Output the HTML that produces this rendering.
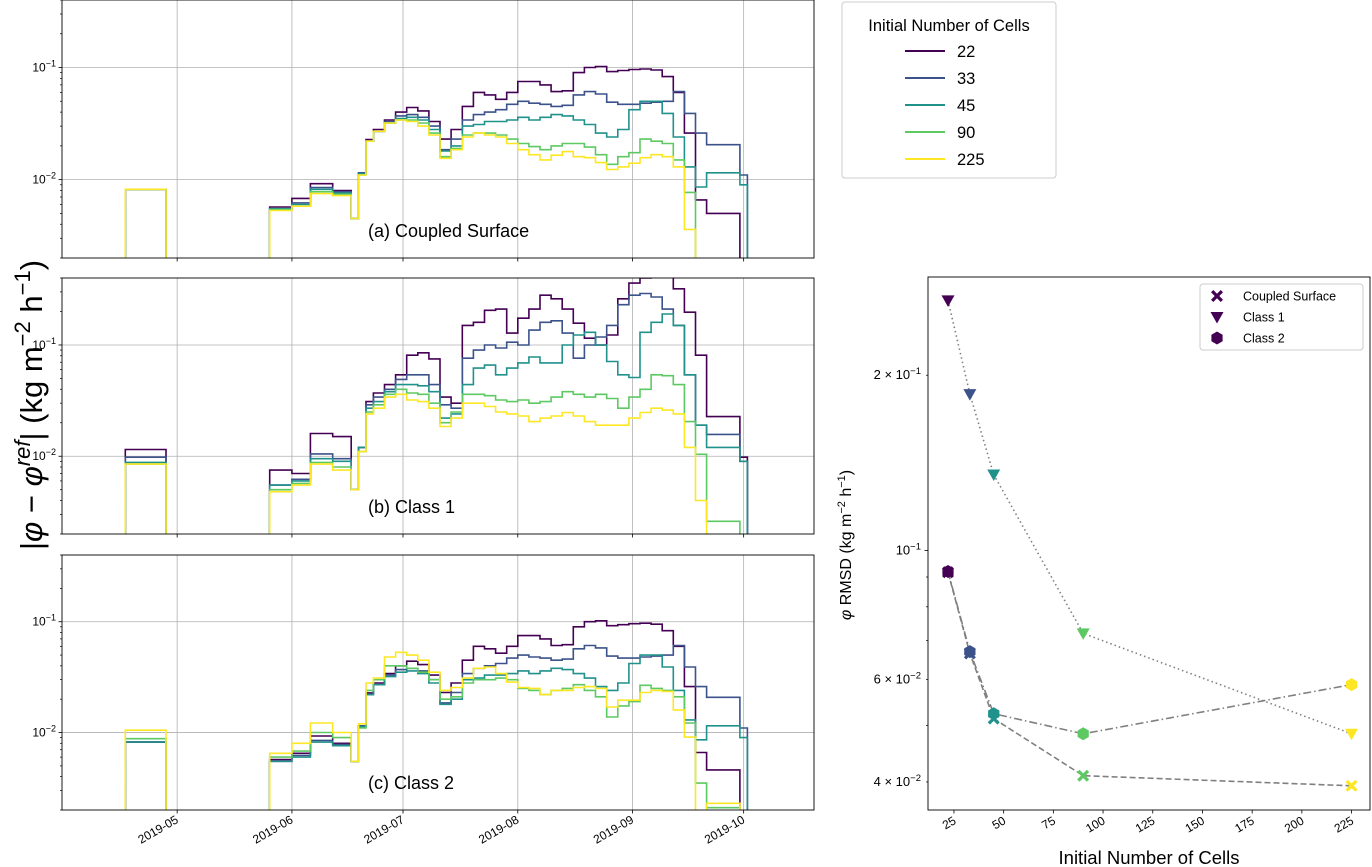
<!DOCTYPE html>
<html><head><meta charset="utf-8"><style>
html,body{margin:0;padding:0;background:#fff;}
svg{display:block;font-family:"Liberation Sans","DejaVu Sans",sans-serif;}
</style></head><body>
<svg id="fig" width="1372" height="867" viewBox="0 0 1372 867" xmlns="http://www.w3.org/2000/svg">
<text transform="translate(42,405) rotate(-90)" text-anchor="middle" font-size="31">|<tspan font-style="italic">φ</tspan> − <tspan font-style="italic">φ</tspan><tspan dy="-12" font-size="22" font-style="italic">ref</tspan><tspan dy="12">| (kg m</tspan><tspan dy="-12" font-size="22">−2</tspan><tspan dy="12"> h</tspan><tspan dy="-12" font-size="22">−1</tspan><tspan dy="12">)</tspan></text>
</svg>
<script>
// ---- time-series data ----
const days=[16,27,55,61,66,72,77,79,81,83,86,89,92,95,98,101,104,107,110,113,116,119,122,125,128,131,134,137,140,143,146,149,152,155,158,161,164,167,170,173,182,184];
const cellCounts=[22,33,45,90,225];
const a22=[0.0082,null,0.0057,0.0068,0.0092,0.0080,0.0045,0.0115,0.0228,0.028,0.034,0.040,0.044,0.041,0.033,0.023,0.028,0.045,0.060,0.057,0.052,0.060,0.075,0.075,0.070,0.061,0.062,0.090,0.100,0.102,0.092,0.094,0.096,0.097,0.095,0.083,0.060,0.026,0.0066,0.0050,null,null];
const a33=[0.0082,null,0.0055,0.0062,0.0085,0.0078,0.0045,0.0115,0.022,0.027,0.033,0.037,0.038,0.036,0.030,0.0185,0.023,0.034,0.038,0.040,0.042,0.047,0.050,0.048,0.047,0.045,0.046,0.057,0.061,0.058,0.049,0.047,0.047,0.048,0.049,0.050,0.061,0.039,0.026,0.0205,0.011,null];
const a45=[0.0082,null,0.0055,0.0060,0.0082,0.0076,0.0045,0.0113,0.022,0.027,0.032,0.035,0.036,0.034,0.028,0.018,0.020,0.030,0.031,0.033,0.033,0.034,0.036,0.034,0.036,0.038,0.037,0.034,0.031,0.026,0.024,0.028,0.042,0.050,0.050,0.039,0.024,0.013,0.0086,0.0115,0.009,null];
const a90=[0.0082,null,0.0054,0.0058,0.0078,0.0074,0.0045,0.011,0.022,0.027,0.032,0.034,0.034,0.032,0.026,0.016,0.019,0.025,0.026,0.026,0.025,0.023,0.021,0.0197,0.0185,0.020,0.021,0.021,0.0195,0.0167,0.0137,0.016,0.0174,0.023,0.022,0.021,0.015,0.0077,null,null,null,null];
const a225=[0.0082,null,0.0053,0.0058,0.0075,0.0072,0.0045,0.011,0.022,0.027,0.032,0.034,0.033,0.030,0.025,0.0155,0.0185,0.024,0.026,0.025,0.024,0.021,0.0185,0.0167,0.015,0.0165,0.0178,0.016,0.0157,0.0142,0.0123,0.013,0.014,0.0157,0.0167,0.016,0.013,0.0036,null,null,null,null];
const b22=[0.0115,null,0.0075,0.007,0.016,0.015,0.005,0.012,0.031,0.037,0.044,0.054,0.081,0.085,0.075,0.034,0.030,0.15,0.16,0.205,0.21,0.128,0.174,0.21,0.28,0.26,0.21,0.157,0.115,0.10,0.123,0.26,0.36,0.40,0.42,0.41,0.32,0.197,0.081,0.0227,0.0098,null];
const b33=[0.0098,null,0.0055,0.0062,0.0105,0.0095,0.005,0.012,0.029,0.034,0.040,0.049,0.054,0.054,0.044,0.029,0.027,0.076,0.090,0.10,0.094,0.106,0.10,0.136,0.16,0.165,0.128,0.076,0.10,0.118,0.15,0.23,0.28,0.29,0.27,0.21,0.15,0.054,0.019,0.0157,0.009,null];
const b45=[0.0088,null,0.0055,0.006,0.0095,0.009,0.005,0.012,0.027,0.031,0.038,0.044,0.044,0.043,0.038,0.022,0.024,0.044,0.062,0.066,0.054,0.062,0.069,0.078,0.069,0.069,0.10,0.123,0.13,0.10,0.071,0.054,0.051,0.13,0.16,0.19,0.15,0.054,0.019,0.012,0.009,null];
const b90=[0.0085,null,0.005,0.0057,0.0088,0.008,0.005,0.011,0.025,0.029,0.036,0.040,0.037,0.036,0.030,0.020,0.025,0.036,0.036,0.035,0.032,0.031,0.032,0.030,0.031,0.034,0.038,0.036,0.034,0.036,0.033,0.027,0.034,0.040,0.054,0.053,0.044,0.0205,0.0104,0.0026,null,null];
const b225=[0.0085,null,0.0048,0.0055,0.0085,0.0075,0.005,0.011,0.024,0.027,0.034,0.036,0.032,0.031,0.027,0.0185,0.022,0.030,0.030,0.028,0.025,0.024,0.023,0.0205,0.022,0.023,0.0247,0.023,0.0205,0.019,0.019,0.019,0.022,0.0247,0.027,0.026,0.024,0.012,0.004,null,null,null];
const c22=[0.0082,null,0.0057,0.0065,0.0093,0.0080,0.0055,0.0115,0.0228,0.028,0.034,0.040,0.044,0.041,0.033,0.023,0.028,0.045,0.060,0.057,0.052,0.060,0.075,0.075,0.070,0.061,0.062,0.090,0.100,0.102,0.092,0.094,0.096,0.097,0.095,0.083,0.060,0.026,0.0066,0.0046,null,null];
const c33=[0.0082,null,0.0055,0.0062,0.0085,0.0078,0.0055,0.0115,0.022,0.027,0.033,0.037,0.038,0.036,0.030,0.0185,0.023,0.034,0.038,0.040,0.042,0.047,0.050,0.048,0.047,0.045,0.046,0.057,0.061,0.058,0.049,0.047,0.047,0.048,0.049,0.050,0.061,0.039,0.026,0.0208,0.011,null];
const c45=[0.0082,null,0.0055,0.0060,0.0082,0.0076,0.0055,0.0113,0.022,0.027,0.032,0.035,0.036,0.034,0.028,0.018,0.020,0.030,0.031,0.033,0.033,0.034,0.036,0.034,0.036,0.038,0.037,0.034,0.031,0.026,0.024,0.028,0.042,0.050,0.050,0.039,0.024,0.013,0.0086,0.0115,0.009,null];
const c90=[0.0088,null,0.006,0.0068,0.010,0.009,0.0055,0.011,0.024,0.030,0.040,0.040,0.038,0.035,0.030,0.020,0.021,0.028,0.030,0.030,0.031,0.030,0.025,0.024,0.022,0.024,0.025,0.027,0.024,0.021,0.0138,0.0174,0.019,0.0267,0.025,0.024,0.021,0.0122,0.0035,0.0021,null,null];
const c225=[0.0105,null,0.0065,0.008,0.0122,0.010,0.0055,0.012,0.028,0.031,0.048,0.053,0.050,0.045,0.035,0.024,0.0255,0.031,0.038,0.039,0.034,0.0285,0.0255,0.025,0.022,0.024,0.024,0.0255,0.026,0.025,0.017,0.0196,0.0196,0.023,0.024,0.0235,0.016,0.0091,null,0.0023,null,null];
const monthLabels=["2019-05","2019-06","2019-07","2019-08","2019-09","2019-10"];
const monthDays=[30,61,91,122,153,183];
// ---- RMSD data ----
const rmsdCoupled=[0.0917,0.0665,0.0514,0.0410,0.0394];
const rmsdClass1=[0.269,0.1856,0.135,0.072,0.0484];
const rmsdClass2=[0.092,0.067,0.0524,0.0484,0.0588];
const rxTicks=[25,50,75,100,125,150,175,200,225];

const colors=["#440154","#3b528b","#21918c","#5ec962","#fde725"];
const NS="http://www.w3.org/2000/svg";
const svg=document.getElementById('fig');
function mk(tag,attrs,parent){const e=document.createElementNS(NS,tag);for(const k in attrs)e.setAttribute(k,attrs[k]);(parent||svg).appendChild(e);return e;}

const X0=62,X1=814,D0=-1.1,D1=202;
const xd=d=>X0+(d-D0)/(D1-D0)*(X1-X0);
const YMIN=0.002,YMAX=0.4;

function panel(top,bottom,sets,label,name,showX){
  const g=mk('g',{});
  
  
  const yv=v=>top+(Math.log10(YMAX)-Math.log10(v))/(Math.log10(YMAX)-Math.log10(YMIN))*(bottom-top);
  monthDays.forEach(d=>{const l=mk('line',{x1:xd(d),x2:xd(d),y1:top,y2:bottom,stroke:'#b0b0b0','stroke-width':0.8},g);});
  [0.1,0.01].forEach(v=>{const l=mk('line',{x1:X0,x2:X1,y1:yv(v),y2:yv(v),stroke:'#b0b0b0','stroke-width':0.8},g);});
  const cid='clip'+name;
  const cp=mk('clipPath',{id:cid},g);mk('rect',{x:X0,y:top,width:X1-X0,height:bottom-top},cp);
  const lg=mk('g',{'clip-path':'url(#'+cid+')'},g);
  sets.forEach((arr,si)=>{
    const low=bottom+10;
    let p='M'+xd(days[0])+','+low;
    for(let i=0;i<days.length;i++){
      const y=arr[i]==null?low:yv(arr[i]);
      p+=' L'+xd(days[i]).toFixed(1)+','+y.toFixed(1);
      if(i<days.length-1)p+=' L'+xd(days[i+1]).toFixed(1)+','+y.toFixed(1);
    }
    const path=mk('path',{d:p,fill:'none',stroke:colors[si],'stroke-width':1.6,'stroke-linejoin':'miter'},lg);
    
    
  });
  mk('rect',{x:X0,y:top,width:X1-X0,height:bottom-top,fill:'none',stroke:'#000','stroke-width':0.9},g);
  for(let e=-3;e<=-1;e++)for(let m=1;m<=9;m++){const v=m*Math.pow(10,e);if(v<YMIN||v>YMAX)continue;const y=yv(v);mk('line',{x1:X0,x2:X0-(m==1?3.5:2),y1:y,y2:y,stroke:'#000','stroke-width':m==1?0.8:0.7},g);}
  [[0.1,'−1'],[0.01,'−2']].forEach(([v,s])=>{const t=mk('text',{x:X0-6,y:yv(v)+4,'text-anchor':'end','font-size':12},g);t.innerHTML='10<tspan dy="-5" font-size="9">'+s+'</tspan>';});
  monthDays.forEach((d,i)=>{mk('line',{x1:xd(d),x2:xd(d),y1:bottom,y2:bottom+3.5,stroke:'#000','stroke-width':0.8},g);
    if(showX){const t=mk('text',{transform:'translate('+(xd(d)+2)+','+(bottom+12)+') rotate(-30)','text-anchor':'end','font-size':12},g);t.textContent=monthLabels[i];}});
  const t=mk('text',{x:368,y:bottom-21,'font-size':18},g);t.textContent=label;
  
  
}
panel(0,258,[a22,a33,a45,a90,a225],'(a) Coupled Surface','panel-coupled-surface',false);
panel(278,534,[b22,b33,b45,b90,b225],'(b) Class 1','panel-class-1',false);
panel(555,810,[c22,c33,c45,c90,c225],'(c) Class 2','panel-class-2',true);

// top legend
const lg=mk('g',{});


mk('rect',{x:842,y:2,width:214,height:176,rx:3,fill:'#fff',stroke:'#ccc','stroke-width':1},lg);
const lt=mk('text',{x:949,y:31,'text-anchor':'middle','font-size':16.5},lg);lt.textContent='Initial Number of Cells';
cellCounts.forEach((n,i)=>{const y=51+i*27;mk('line',{x1:905,x2:945,y1:y,y2:y,stroke:colors[i],'stroke-width':2},lg);
  const t=mk('text',{x:957,y:y+6,'font-size':16.5},lg);t.textContent=n;
  
  });

// right panel
const RX0=928,RX1=1370,RT=277,RB=810,RYMIN=0.0358,RYMAX=0.295;
const rx=v=>948+(v-22)*1.988;
const ry=v=>RT+(Math.log10(RYMAX)-Math.log10(v))/(Math.log10(RYMAX)-Math.log10(RYMIN))*(RB-RT);
const rg=mk('g',{});


mk('rect',{x:RX0,y:RT,width:RX1-RX0,height:RB-RT,fill:'none',stroke:'#000','stroke-width':0.9},rg);
for(let e=-2;e<=-1;e++)for(let m=1;m<=9;m++){const v=m*Math.pow(10,e);if(v<RYMIN||v>RYMAX)continue;const y=ry(v);mk('line',{x1:RX0,x2:RX0-(m==1?3.5:2),y1:y,y2:y,stroke:'#000','stroke-width':m==1?0.8:0.7},rg);}
[[0.2,'2 × 10','−1'],[0.1,'10','−1'],[0.06,'6 × 10','−2'],[0.04,'4 × 10','−2']].forEach(([v,b,s])=>{const t=mk('text',{x:RX0-7,y:ry(v)+4,'text-anchor':'end','font-size':13},rg);t.innerHTML=b+'<tspan dy="-5" font-size="9.5">'+s+'</tspan>';});
rxTicks.forEach(v=>{mk('line',{x1:rx(v),x2:rx(v),y1:RB,y2:RB+3.5,stroke:'#000','stroke-width':0.8},rg);
  const t=mk('text',{transform:'translate('+(rx(v)+3)+','+(RB+13)+') rotate(-30)','text-anchor':'end','font-size':12},rg);t.textContent=v;
  });
const rxl=mk('text',{x:1149,y:864,'text-anchor':'middle','font-size':18.5},rg);rxl.textContent='Initial Number of Cells';

const ryl=mk('text',{transform:'translate(851,545) rotate(-90)','text-anchor':'middle','font-size':16},rg);
ryl.innerHTML='<tspan font-style="italic">φ</tspan> RMSD (kg m<tspan dy="-6" font-size="11">−2</tspan><tspan dy="6"> h</tspan><tspan dy="-6" font-size="11">−1</tspan><tspan dy="6">)</tspan>';


function marker(type,x,y,color,parent){
  let d;
  if(type==='x'){const a=6,w=2.3;d=`M${x-a},${y-a+w} L${x-a+w},${y-a} L${x},${y-w} L${x+a-w},${y-a} L${x+a},${y-a+w} L${x+w},${y} L${x+a},${y+a-w} L${x+a-w},${y+a} L${x},${y+w} L${x-a+w},${y+a} L${x-a},${y+a-w} L${x-w},${y} Z`;}
  else if(type==='tri'){d=`M${x-6.5},${y-5} L${x+6.5},${y-5} L${x},${y+6.5} Z`;}
  else {let s='';for(let k=0;k<6;k++){const an=Math.PI/180*(60*k+90);s+=(k?'L':'M')+(x+6.5*Math.cos(an)).toFixed(1)+','+(y+6.5*Math.sin(an)).toFixed(1);}d=s+'Z';}
  return mk('path',{d:d,fill:color},parent);
}
const seriesDefs=[[rmsdCoupled,'x','6,3','coupled-surface'],[rmsdClass1,'tri','1.5,3','class-1'],[rmsdClass2,'hex','8,3,1.5,3','class-2']];
seriesDefs.forEach(([vals,mt,dash,nm])=>{
  let p='';vals.forEach((v,i)=>{p+=(i?'L':'M')+rx(cellCounts[i]).toFixed(1)+','+ry(v).toFixed(1);});
  const l=mk('path',{d:p,fill:'none',stroke:'#808080','stroke-width':1.6,'stroke-dasharray':dash},rg);
  
  
});
seriesDefs.forEach(([vals,mt,dash,nm])=>{
  vals.forEach((v,i)=>{const m=marker(mt,rx(cellCounts[i]),ry(v),colors[i],rg);
    
    });
});
// right legend
const rl=mk('g',{});


mk('rect',{x:1200,y:284,width:163,height:66,rx:3,fill:'#fff',stroke:'#ccc','stroke-width':1},rl);
[['x','Coupled Surface'],['tri','Class 1'],['hex','Class 2']].forEach(([mt,txt],i)=>{const y=296+i*21;marker(mt,1217,y,colors[0],rl);
  const t=mk('text',{x:1243,y:y+4.5,'font-size':12.5},rl);t.textContent=txt;
  
  });
</script>
</body></html>
